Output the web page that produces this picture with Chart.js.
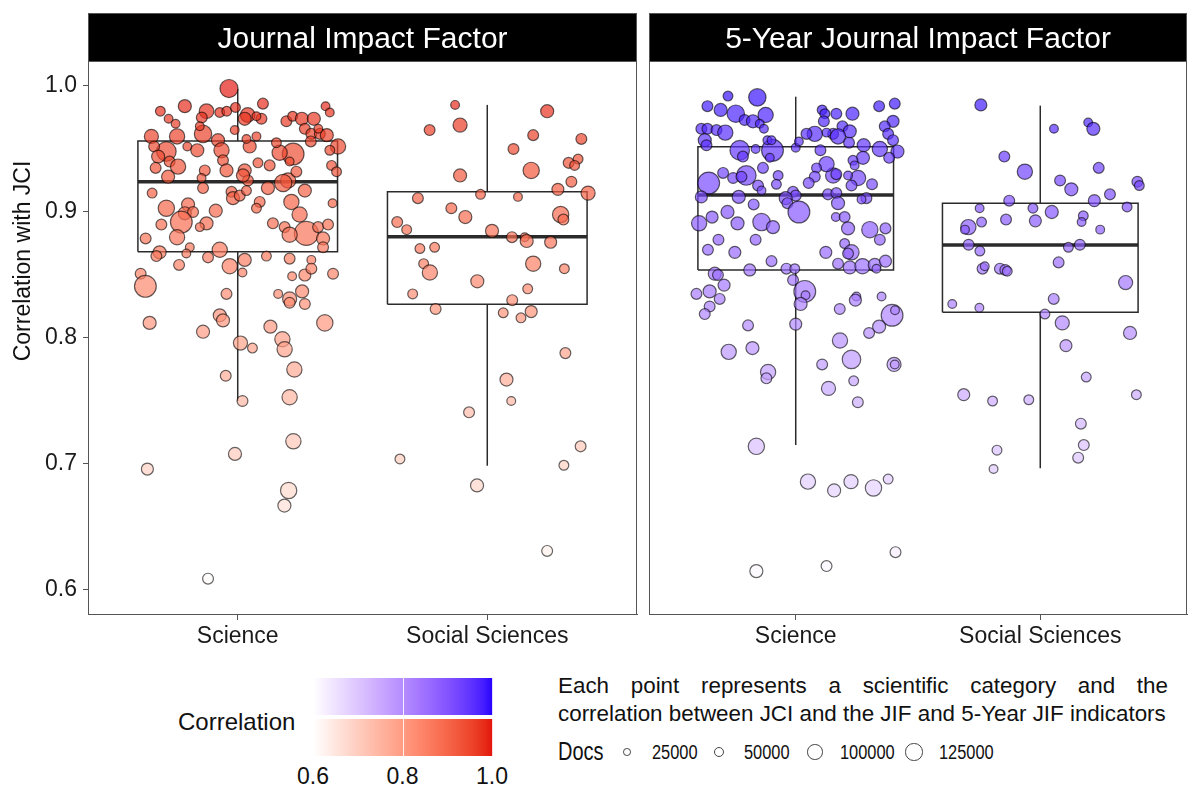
<!DOCTYPE html>
<html>
<head>
<meta charset="utf-8">
<script src="https://cdn.jsdelivr.net/npm/chart.js@4.4.1/dist/chart.umd.min.js"></script>
<style>
body { margin: 0; background: #fff; font-family: "Liberation Sans", Arial, sans-serif; color: #111; }
#page { position: relative; width: 1188px; height: 785px; overflow: hidden; }
canvas { position: absolute; top: 0; }
#jif { left: 0; }
#jif5 { left: 640px; }
.abs { position: absolute; white-space: nowrap; }
#ytitle { left: -128px; top: 247px; width: 300px; height: 28px; line-height: 28px; font-size: 23px; text-align: center; transform: rotate(-90deg); }
#corrTitle { left: 178px; top: 710px; font-size: 24px; line-height: 24px; }
.bar { position: absolute; left: 313px; width: 180px; height: 37px; }
#barBlue { top: 678px; }
#barRed { top: 719px; }
.cbtick { position: absolute; top: 0; width: 1px; height: 100%; background: rgba(255,255,255,0.85); }
.cblab { position: absolute; top: 765px; width: 40px; text-align: center; font-size: 23px; line-height: 23px; }
#caption { left: 558px; top: 672px; width: 610px; font-size: 22.4px; line-height: 28px; text-align: justify; text-align-last: left; white-space: normal; }
#docsTitle { left: 558px; top: 739px; font-size: 25px; line-height: 25px; transform: scaleX(0.8); transform-origin: left center; }
.dkey { position: absolute; border: 1.2px solid #444; border-radius: 50%; box-sizing: border-box; }
.dlab { position: absolute; top: 742px; font-size: 20px; line-height: 20px; transform: scaleX(0.82); transform-origin: left center; }
</style>
</head>
<body>
<div id="page">
  <canvas id="jif" width="640" height="665"></canvas>
  <canvas id="jif5" width="548" height="665"></canvas>
  <div id="ytitle" class="abs">Correlation with JCI</div>
  <div id="corrTitle" class="abs">Correlation</div>
  <div id="barBlue" class="bar"></div>
  <div id="barRed" class="bar"></div>
  <div id="caption" class="abs">Each point represents a scientific category and the correlation between JCI and the JIF and 5-Year JIF indicators</div>
  <div id="docsTitle" class="abs">Docs</div>
</div>
<script>
/* Correlation of JCI with JIF / 5-Year JIF, per scientific category */

const categories = ["Science", "Social Sciences"];
const panelTitles = ["Journal Impact Factor", "5-Year Journal Impact Factor"];
const yTicks = [0.6, 0.7, 0.8, 0.9, 1.0];
const corrBreaks = [0.6, 0.8, 1.0];
const docsBreaks = [25000, 50000, 100000, 125000];

// box stats per category: [lower whisker, q1, median, q3, upper whisker]
const jifBoxes = [[0.750, 0.8685, 0.924, 0.9563, 0.9976], [0.6987, 0.8267, 0.8804, 0.9161, 0.985]];
const jif5Boxes = [[0.715, 0.854, 0.9135, 0.9518, 0.9915], [0.6966, 0.8204, 0.8738, 0.9069, 0.9844]];

// points: [jitter, correlation, docs (thousands)]
const jifScience = [
  [-0.035,0.998,136],[-0.31,0.980,40],[-0.212,0.984,71],[-0.277,0.974,32],[-0.249,0.970,32],
  [-0.125,0.980,89],[-0.144,0.975,49],[-0.072,0.979,40],[-0.044,0.980,40],[-0.009,0.983,40],
  [0.04,0.977,89],[0.028,0.974,71],[0.101,0.986,49],[0.095,0.974,49],[0.075,0.976,32],
  [0.195,0.972,49],[0.22,0.976,40],[0.257,0.974,71],[0.305,0.974,71],[0.352,0.984,32],
  [0.369,0.979,32],[0.269,0.966,49],[0.295,0.962,49],[0.329,0.962,49],[0.357,0.961,71],
  [0.323,0.966,32],[0.293,0.956,49],[0.402,0.952,97],[0.369,0.949,40],[0.222,0.946,198],
  [0.168,0.947,97],[0.155,0.955,40],[0.208,0.940,32],[0.128,0.937,49],[0.081,0.939,40],
  [0.048,0.952,71],[0.035,0.958,32],[0.075,0.960,32],[-0.012,0.965,32],[-0.079,0.957,71],
  [-0.065,0.949,97],[-0.059,0.941,49],[-0.045,0.933,71],[-0.139,0.962,126],[-0.152,0.968,32],
  [-0.202,0.952,32],[-0.162,0.949,71],[-0.243,0.960,97],[-0.286,0.948,160],[-0.346,0.960,83],
  [-0.335,0.952,49],[-0.319,0.944,71],[-0.273,0.940,49],[-0.239,0.936,97],[-0.329,0.935,49],
  [-0.279,0.928,71],[-0.132,0.933,49],[-0.145,0.927,32],[0.028,0.933,71],[0.041,0.925,49],
  [0.021,0.929,71],[0.202,0.925,97],[0.182,0.923,126],[0.235,0.932,49],[0.376,0.937,40],
  [0.396,0.932,40],[0.121,0.919,71],[0.269,0.917,71],[-0.139,0.919,49],[-0.343,0.915,40],
  [-0.025,0.916,49],[-0.019,0.911,71],[0.008,0.913,49],[0.035,0.917,40],[0.088,0.908,49],
  [0.075,0.903,40],[0.215,0.908,97],[0.248,0.898,97],[0.38,0.907,32],[-0.286,0.903,111],
  [-0.199,0.906,71],[-0.212,0.899,71],[-0.179,0.900,49],[-0.088,0.901,71],[-0.226,0.892,198],
  [-0.306,0.890,49],[-0.125,0.891,71],[-0.152,0.888,32],[-0.369,0.879,49],[-0.243,0.880,97],
  [-0.313,0.868,71],[-0.072,0.870,97],[0.141,0.891,49],[0.188,0.888,49],[0.275,0.883,239],
  [0.322,0.888,49],[0.362,0.890,49],[0.342,0.879,71],[0.342,0.872,49],[0.208,0.882,97],
  [0.028,0.862,71],[0.115,0.865,40],[0.208,0.863,49],[0.295,0.862,32],[-0.192,0.872,32],
  [-0.206,0.867,32],[-0.119,0.864,49],[-0.326,0.865,49],[-0.235,0.858,49],[-0.032,0.857,97],
  [0.019,0.852,32],[-0.389,0.851,49],[-0.37,0.841,198],[-0.045,0.835,49],[0.218,0.849,32],
  [0.269,0.850,60],[0.295,0.855,49],[0.382,0.851,49],[0.258,0.837,71],[0.208,0.831,83],
  [0.208,0.828,49],[0.162,0.835,32],[0.269,0.827,49],[-0.353,0.812,71],[-0.139,0.805,71],
  [-0.072,0.818,71],[-0.059,0.814,71],[0.131,0.809,71],[0.349,0.812,111],[0.179,0.799,97],
  [0.188,0.791,97],[0.011,0.796,83],[0.059,0.792,40],[0.227,0.775,97],[-0.048,0.770,49],
  [0.019,0.750,49],[0.208,0.753,97],[0.223,0.718,97],[-0.011,0.708,71],[-0.362,0.696,60],
  [0.204,0.679,111],[0.187,0.667,71],[-0.119,0.609,49]
];
const jifSocial = [
  [-0.129,0.985,32],[0.24,0.980,71],[-0.231,0.965,49],[-0.109,0.969,83],[0.184,0.961,49],
  [0.377,0.958,49],[0.105,0.950,49],[0.326,0.939,49],[0.364,0.942,40],[0.35,0.937,40],
  [0.176,0.933,111],[-0.109,0.929,71],[0.337,0.924,49],[0.283,0.918,60],[0.404,0.915,83],
  [-0.027,0.914,40],[0.123,0.912,32],[-0.278,0.911,49],[-0.144,0.903,49],[-0.088,0.896,71],
  [0.294,0.898,111],[0.305,0.894,49],[-0.361,0.892,49],[-0.323,0.886,40],[0.019,0.885,71],
  [0.099,0.880,49],[0.15,0.880,32],[0.158,0.877,71],[0.254,0.876,60],[-0.27,0.871,40],
  [-0.211,0.872,40],[-0.255,0.859,40],[-0.23,0.852,97],[0.184,0.859,97],[0.309,0.855,40],
  [-0.04,0.845,71],[-0.299,0.835,40],[0.162,0.839,40],[0.1,0.830,49],[-0.207,0.823,49],
  [0.064,0.820,40],[0.135,0.816,40],[0.176,0.821,60],[0.313,0.788,49],[0.077,0.767,71],
  [0.096,0.750,32],[-0.073,0.741,49],[0.374,0.714,49],[0.307,0.699,40],[-0.35,0.704,40],
  [-0.041,0.683,71],[0.24,0.631,49]
];
const jif5Science = [
  [-0.277,0.992,40],[-0.157,0.991,126],[-0.361,0.984,49],[-0.307,0.981,71],[-0.245,0.978,126],
  [-0.209,0.973,49],[-0.175,0.972,71],[-0.123,0.977,97],[-0.147,0.970,32],[-0.13,0.966,32],
  [-0.386,0.966,49],[-0.361,0.966,49],[-0.324,0.965,49],[-0.288,0.963,97],[-0.372,0.957,71],
  [-0.365,0.953,49],[0.108,0.981,40],[0.119,0.978,40],[0.166,0.978,49],[0.232,0.978,71],
  [0.115,0.972,49],[0.341,0.984,49],[0.405,0.986,49],[0.398,0.972,60],[0.364,0.968,49],
  [0.378,0.962,49],[0.191,0.968,49],[0.221,0.964,71],[0.153,0.962,49],[0.078,0.962,97],
  [0.044,0.962,49],[0.126,0.963,32],[0.173,0.960,97],[0.218,0.955,49],[0.278,0.953,71],
  [0.344,0.950,97],[0.398,0.957,49],[0.416,0.948,71],[0.382,0.943,49],[0.275,0.943,71],
  [0.234,0.941,40],[0.241,0.937,32],[0.255,0.927,97],[0.228,0.921,49],[0.312,0.922,49],
  [0.214,0.929,32],[0.153,0.929,97],[0.166,0.930,49],[0.126,0.938,97],[0.101,0.949,49],
  [0.085,0.935,40],[0.078,0.928,49],[0.053,0.923,49],[0,0.951,32],[0.013,0.956,32],
  [-0.095,0.949,198],[-0.106,0.943,32],[-0.116,0.957,32],[-0.099,0.957,32],[-0.164,0.950,32],
  [-0.229,0.949,160],[-0.216,0.944,49],[-0.356,0.923,198],[-0.297,0.931,49],[-0.256,0.927,49],
  [-0.202,0.929,160],[-0.222,0.928,49],[-0.134,0.935,49],[-0.072,0.929,40],[-0.079,0.922,40],
  [-0.154,0.921,49],[-0.14,0.917,32],[-0.386,0.912,60],[-0.233,0.912,71],[-0.172,0.906,49],
  [-0.011,0.916,49],[0,0.913,49],[-0.041,0.911,71],[-0.034,0.907,49],[0.013,0.900,198],
  [0.132,0.914,49],[0.166,0.915,49],[0.173,0.907,71],[0.289,0.911,49],[0.269,0.910,32],
  [-0.395,0.891,97],[-0.342,0.896,60],[-0.279,0.900,71],[-0.238,0.891,71],[-0.14,0.892,126],
  [-0.093,0.888,71],[-0.316,0.878,49],[-0.359,0.870,49],[-0.249,0.868,60],[-0.164,0.878,49],
  [-0.099,0.861,49],[-0.188,0.854,60],[0.164,0.896,32],[0.2,0.896,49],[0.214,0.887,71],
  [0.303,0.886,111],[0.344,0.878,49],[0.367,0.887,49],[0.2,0.875,40],[0.228,0.868,97],
  [0.214,0.867,49],[0.123,0.868,60],[0.173,0.859,49],[0.221,0.856,71],[0.273,0.857,97],
  [0.323,0.858,71],[0.33,0.855,32],[0.367,0.861,60],[-0.038,0.855,49],[-0.004,0.855,40],
  [-0.331,0.851,71],[-0.318,0.850,49],[-0.293,0.842,60],[-0.406,0.835,49],[-0.352,0.837,71],
  [-0.011,0.846,49],[0.037,0.837,198],[0.248,0.833,32],[0.351,0.833,32],[-0.311,0.831,49],
  [-0.352,0.825,49],[-0.372,0.819,49],[0.04,0.834,32],[0.02,0.827,71],[0,0.811,60],
  [-0.195,0.810,49],[-0.274,0.789,97],[-0.177,0.792,71],[-0.113,0.773,97],[-0.12,0.768,49],
  [0.18,0.823,49],[0.244,0.830,60],[0.394,0.818,198],[0.406,0.822,32],[0.341,0.809,71],
  [0.3,0.804,49],[0.181,0.798,97],[0.228,0.783,143],[0.402,0.779,83],[0.405,0.779,32],
  [0.108,0.779,49],[0.134,0.760,83],[0.237,0.766,40],[0.254,0.749,49],[-0.161,0.714,111],
  [0.05,0.686,97],[0.157,0.679,71],[0.226,0.686,83],[0.318,0.681,111],[0.378,0.688,40],
  [-0.161,0.615,71],[0.126,0.619,49],[0.408,0.630,49]
];
const jif5Social = [
  [-0.243,0.985,60],[0.056,0.966,32],[0.196,0.971,32],[0.217,0.966,71],[-0.147,0.944,49],
  [-0.063,0.932,97],[0.239,0.935,49],[0.081,0.925,49],[0.127,0.918,71],[0.397,0.924,49],
  [0.405,0.921,40],[0.285,0.914,49],[-0.127,0.909,49],[0.221,0.909,60],[-0.248,0.903,32],
  [-0.03,0.903,40],[0.047,0.900,71],[0.176,0.897,40],[0.355,0.904,40],[-0.294,0.888,97],
  [-0.308,0.886,32],[-0.24,0.892,40],[-0.14,0.894,49],[-0.02,0.893,60],[0.169,0.892,32],
  [0.245,0.886,32],[-0.293,0.874,49],[-0.247,0.869,40],[0.115,0.872,40],[0.162,0.874,49],
  [0.075,0.860,49],[-0.236,0.855,49],[-0.227,0.857,32],[-0.165,0.855,49],[-0.143,0.854,49],
  [-0.135,0.853,40],[0.349,0.844,83],[-0.36,0.827,32],[-0.249,0.824,32],[0.055,0.831,49],
  [0.019,0.819,40],[0.09,0.812,83],[0.367,0.804,71],[0.105,0.794,60],[0.188,0.769,40],
  [-0.313,0.755,60],[-0.195,0.750,40],[-0.047,0.751,40],[0.393,0.755,40],[0.166,0.732,49],
  [0.178,0.715,49],[0.155,0.705,49],[-0.177,0.711,40],[-0.191,0.696,32]
];

const FONT = "'Liberation Sans', Arial, sans-serif";
Chart.defaults.font.family = FONT;

/* Colour scale: white -> high colour, interpolated in Lab like ggplot */
function toLab(hex) {
    const c = [1, 3, 5].map(i => parseInt(hex.substr(i, 2), 16) / 255)
        .map(v => v <= 0.04045 ? v / 12.92 : Math.pow((v + 0.055) / 1.055, 2.4));
    const X = (0.4124 * c[0] + 0.3576 * c[1] + 0.1805 * c[2]) / 0.95047;
    const Y = 0.2126 * c[0] + 0.7152 * c[1] + 0.0722 * c[2];
    const Z = (0.0193 * c[0] + 0.1192 * c[1] + 0.9505 * c[2]) / 1.08883;
    const f = t => t > 0.008856 ? Math.cbrt(t) : 7.787 * t + 16 / 116;
    return [116 * f(Y) - 16, 500 * (f(X) - f(Y)), 200 * (f(Y) - f(Z))];
}
function fromLab(L, a, b) {
    const fy = (L + 16) / 116, fx = a / 500 + fy, fz = fy - b / 200;
    const inv = f => f * f * f > 0.008856 ? f * f * f : (f - 16 / 116) / 7.787;
    const X = inv(fx) * 0.95047, Y = inv(fy), Z = inv(fz) * 1.08883;
    const lin = [3.2406 * X - 1.5372 * Y - 0.4986 * Z, -0.9689 * X + 1.8758 * Y + 0.0415 * Z, 0.0557 * X - 0.2040 * Y + 1.0570 * Z];
    return lin.map(v => v <= 0.0031308 ? 12.92 * v : 1.055 * Math.pow(v, 1 / 2.4) - 0.055)
        .map(v => Math.round(Math.min(1, Math.max(0, v)) * 255));
}
function palette(high) {
    const A = toLab("#ffffff"), B = toLab(high);
    return (v, alpha) => {
        const t = Math.min(1, Math.max(0, (v - 0.6) / 0.4));
        const c = fromLab(A[0] + (B[0] - A[0]) * t, A[1] + (B[1] - A[1]) * t, A[2] + (B[2] - A[2]) * t);
        return `rgba(${c[0]},${c[1]},${c[2]},${alpha})`;
    };
}
const redPal = palette("#e3120b");
const bluePal = palette("#2400ff");

/* size scale: area proportional to docs */
function docsRadius(docs) {
    return 0.0245 * Math.sqrt(docs);
}

/* black facet strip with title + grey panel border */
const stripPlugin = {
    id: "strip",
    beforeDatasetsDraw(chart, args, opts) {
        const {ctx, chartArea: a} = chart;
        const top = a.top - 48;
        ctx.save();
        ctx.fillStyle = "#000";
        ctx.fillRect(a.left, top, a.right - a.left, a.top - top);
        ctx.strokeStyle = "#555";
        ctx.lineWidth = 1;
        ctx.strokeRect(a.left + 0.5, top + 0.5, a.right - a.left - 1, a.top - top);
        ctx.strokeRect(a.left + 0.5, a.top + 0.5, a.right - a.left - 1, a.bottom - a.top);
        ctx.fillStyle = "#fff";
        ctx.font = "30px " + FONT;
        ctx.textAlign = "center";
        ctx.textBaseline = "alphabetic";
        ctx.fillText(opts.text, (a.left + a.right) / 2, a.top - 13);
        ctx.restore();
    }
};

function makePanel(id, title, groups, boxes, pal, showY, pad) {
    const datasets = [];
    boxes.forEach((b, i) => {
        const c = i + 1, w = 0.4;
        const [lo, q1, med, q3, hi] = b;
        const seg = (pts, width) => datasets.push({
            type: "scatter", showLine: true, data: pts.map(p => ({x: p[0], y: p[1]})),
            borderColor: "#2b2b2b", borderWidth: width, pointRadius: 0, order: 2
        });
        seg([[c - w, q1], [c + w, q1], [c + w, q3], [c - w, q3], [c - w, q1]], 1.5);
        seg([[c - w, med], [c + w, med]], 3.6);
        seg([[c, q3], [c, hi]], 1.5);
        seg([[c, q1], [c, lo]], 1.5);
    });
    groups.forEach((g, i) => {
        datasets.push({
            type: "scatter",
            data: g.map(p => ({x: i + 1 + p[0], y: p[1], docs: p[2] * 1000})),
            backgroundColor: ctx => ctx.raw ? pal(ctx.raw.y, 0.68) : "transparent",
            borderColor: "rgba(0,0,0,0.6)",
            borderWidth: 1.2,
            pointRadius: ctx => ctx.raw ? docsRadius(ctx.raw.docs) : 3,
            order: 1
        });
    });

    return new Chart(document.getElementById(id), {
        type: "scatter",
        data: {datasets: datasets},
        plugins: [stripPlugin],
        options: {
            responsive: false,
            devicePixelRatio: 1,
            animation: false,
            events: [],
            layout: {padding: pad, autoPadding: false},
            plugins: {legend: {display: false}, tooltip: {enabled: false}, strip: {text: title}},
            scales: {
                x: {
                    type: "linear", min: 0.4, max: 2.6,
                    afterBuildTicks: s => { s.ticks = categories.map((c, i) => ({value: i + 1})); },
                    afterFit: s => { s.height = 51; },
                    ticks: {
                        callback: v => categories[Math.round(v) - 1],
                        font: {size: 23}, color: "#1a1a1a", padding: 3, maxRotation: 0, autoSkip: false
                    },
                    grid: {drawOnChartArea: false, tickLength: 6, color: "#555"},
                    border: {display: true, color: "#555", width: 1}
                },
                y: {
                    display: showY,
                    min: 0.58095, max: 1.01984,
                    afterBuildTicks: s => { s.ticks = yTicks.map(v => ({value: v})); },
                    afterFit: s => { s.width = showY ? 88 : 0; },
                    ticks: {callback: v => v.toFixed(1), font: {size: 23}, color: "#1a1a1a", padding: 6},
                    grid: {drawOnChartArea: false, tickLength: 5, color: "#555"},
                    border: {display: true, color: "#555", width: 1}
                }
            }
        }
    });
}

makePanel("jif", panelTitles[0], [jifScience, jifSocial], jifBoxes, redPal, true, {top: 61, right: 3, left: 0, bottom: 0});
makePanel("jif5", panelTitles[1], [jif5Science, jif5Social], jif5Boxes, bluePal, false, {top: 61, right: 1, left: 9, bottom: 0});

/* colour bar legend */
function fillBar(el, pal) {
    const stops = [];
    for (let i = 0; i <= 20; i++) stops.push(pal(0.6 + 0.4 * i / 20, 1));
    el.style.background = `linear-gradient(to right, ${stops.join(",")})`;
    corrBreaks.forEach(v => {
        const t = document.createElement("div");
        t.className = "cbtick";
        t.style.left = ((v - 0.6) / 0.4 * 179) + "px";
        el.appendChild(t);
    });
}
fillBar(document.getElementById("barBlue"), bluePal);
fillBar(document.getElementById("barRed"), redPal);

const page = document.getElementById("page");
corrBreaks.forEach(v => {
    const l = document.createElement("div");
    l.className = "cblab";
    l.textContent = v.toFixed(1);
    l.style.left = (313 + (v - 0.6) / 0.4 * 179 - 20) + "px";
    page.appendChild(l);
});

/* size legend */
const keyX = [627, 719, 815, 914];
docsBreaks.forEach((d, i) => {
    const r = docsRadius(d);
    const k = document.createElement("div");
    k.className = "dkey";
    k.style.left = (keyX[i] - r) + "px";
    k.style.top = (752 - r) + "px";
    k.style.width = k.style.height = (2 * r) + "px";
    page.appendChild(k);
    const l = document.createElement("div");
    l.className = "dlab";
    l.textContent = d;
    l.style.left = (keyX[i] + 25) + "px";
    page.appendChild(l);
});
</script>
</body>
</html>
